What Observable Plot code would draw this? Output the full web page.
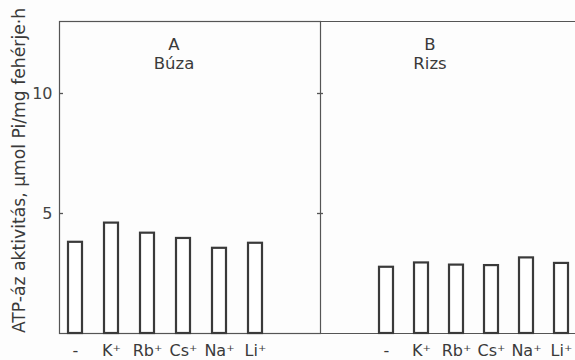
<!DOCTYPE html>
<html>
<head>
<meta charset="utf-8">
<script src="https://cdn.jsdelivr.net/npm/d3@7"></script>
<script src="https://cdn.jsdelivr.net/npm/@observablehq/plot@0.6"></script>
<style>
  html, body { margin: 0; padding: 0; background: #fdfdfd; }
  #wrap { position: relative; width: 575px; height: 360px; overflow: hidden; }
  #wrap svg { position: absolute; top: 0; }
</style>
</head>
<body>
<div id="wrap"></div>
<script>
const categories = ["-", "K⁺", "Rb⁺", "Cs⁺", "Na⁺", "Li⁺"];
const wheat = [3.80, 4.60, 4.18, 3.96, 3.55, 3.76];
const rice = [2.76, 2.94, 2.85, 2.83, 3.15, 2.92];
const yTicks = [5, 10];
const yMax = 13;
const panelA = "A\nBúza";
const panelB = "B\nRizs";
const yLabel = "ATP-áz aktivitás, μmol Pi/mg fehérje·h";

const ink = "#3a3a3a";
const font = "DejaVu Sans, sans-serif";
const H = 360, MT = 21, MB = 27;

const dataA = categories.map((c, i) => ({cat: c, v: wheat[i]}));
const dataB = categories.map((c, i) => ({cat: c, v: rice[i]}));

const baseStyle = {background: "transparent", fontFamily: font, color: ink, overflow: "visible"};

// Panel A (Búza)
const WA = 323, MLA = 59, MRA = 3;
const fwA = WA - MLA - MRA;
const plotA = Plot.plot({
  width: WA, height: H,
  marginLeft: MLA, marginRight: MRA, marginTop: MT, marginBottom: MB,
  style: baseStyle,
  x: {type: "band", domain: categories, paddingInner: 0.612, paddingOuter: 0.925, align: 0.13},
  y: {domain: [0, yMax]},
  marks: [
    Plot.frame({stroke: "#555", strokeWidth: 1.2}),
    Plot.barY(dataA, {x: "cat", y: "v", fill: "white", stroke: ink, strokeWidth: 2.2}),
    Plot.tickY(yTicks, {y: d => d, stroke: "#555", strokeWidth: 1.3, insetLeft: 0, insetRight: fwA - 4}),
    Plot.tickY(yTicks, {y: d => d, stroke: "#555", strokeWidth: 1.3, insetLeft: fwA - 3, insetRight: -3}),
    Plot.axisY(yTicks, {tickSize: 0, tickPadding: 7, fontSize: 16, label: null, fill: "#444"}),
    Plot.axisX({tickSize: 0, tickPadding: 11, fontSize: 16, label: null, fill: ink}),
    Plot.text([panelA], {frameAnchor: "top", lineAnchor: "top", dx: -16, dy: 14, fontSize: 16.5, lineHeight: 1.2, fill: ink}),
    Plot.text([yLabel], {frameAnchor: "left", textAnchor: "middle", lineAnchor: "middle", rotate: -90, dx: -40, dy: -7, fontSize: 17.2, fill: ink})
  ]
});
plotA.style.left = "0px";

// Panel B (Rizs)
const WB = 255;
const plotB = Plot.plot({
  width: WB, height: H,
  marginLeft: 0, marginRight: 0, marginTop: MT, marginBottom: MB,
  style: baseStyle,
  x: {type: "band", domain: categories, paddingInner: 0.6, paddingOuter: 0.895, align: 0.893},
  y: {domain: [0, yMax], axis: null},
  marks: [
    Plot.ruleY([0, yMax], {stroke: "#555", strokeWidth: 1.2}),
    Plot.barY(dataB, {x: "cat", y: "v", fill: "white", stroke: ink, strokeWidth: 2.2}),
    Plot.axisX({tickSize: 0, tickPadding: 11, fontSize: 16, label: null, fill: ink}),
    Plot.text([panelB], {frameAnchor: "top", lineAnchor: "top", dx: -18, dy: 14, fontSize: 16.5, lineHeight: 1.2, fill: ink})
  ]
});
plotB.style.left = "320px";

const wrap = document.getElementById("wrap");
wrap.appendChild(plotA);
wrap.appendChild(plotB);
</script>
</body>
</html>
